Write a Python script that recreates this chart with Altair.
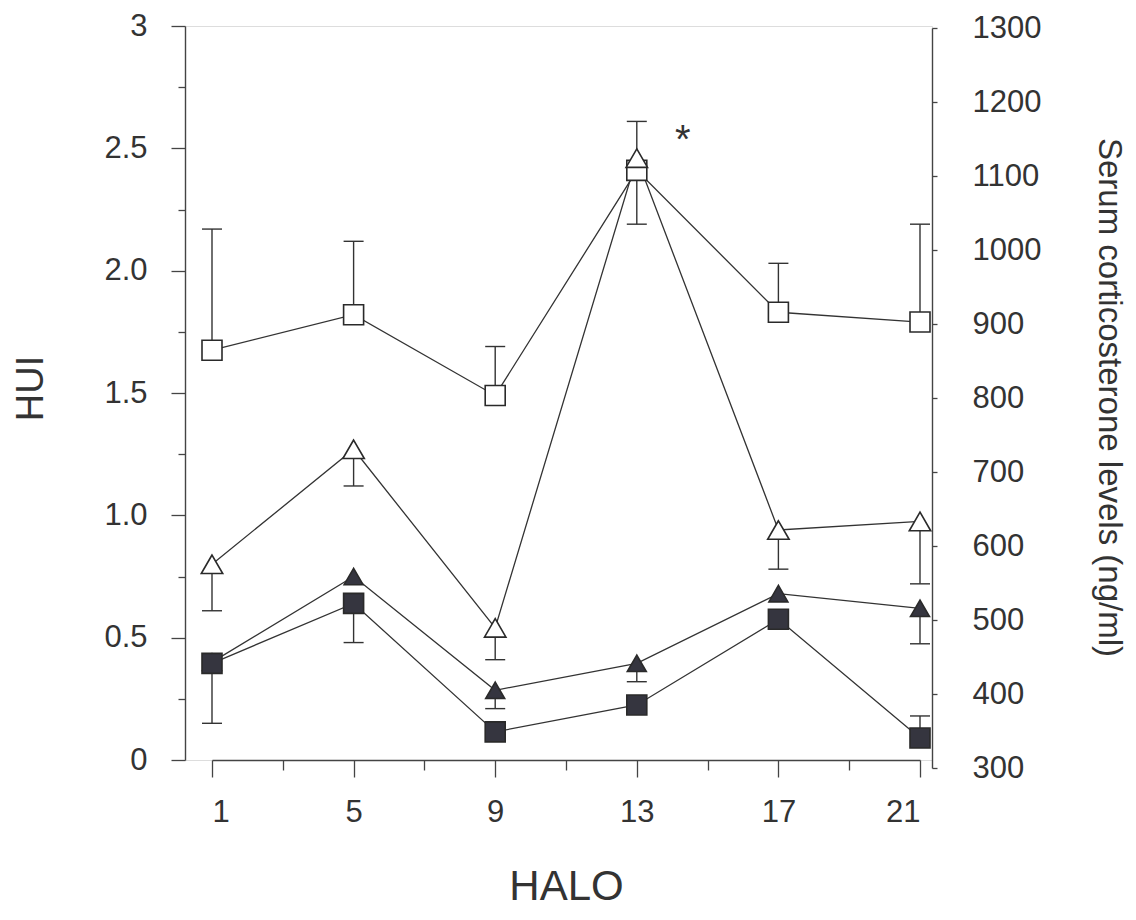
import altair as alt
import pandas as pd

FONT = "Liberation Sans"
INK = "#333333"

# ---- data (HUI units, left axis) ----
HALO = [1, 5, 9, 13, 17, 21]
OPEN_SQUARE = [1.675, 1.82, 1.49, 2.41, 1.83, 1.79]
OPEN_SQUARE_ERR = [2.17, 2.12, 1.69, 2.19, 2.03, 2.19]
OPEN_TRIANGLE = [0.80, 1.27, 0.54, 2.46, 0.94, 0.975]
OPEN_TRIANGLE_ERR = [0.61, 1.12, 0.41, 2.61, 0.78, 0.72]
FILLED_TRIANGLE = [0.40, 0.75, 0.285, 0.395, 0.68, 0.62]
FILLED_TRIANGLE_ERR = [None, None, 0.21, 0.32, None, 0.475]
FILLED_SQUARE = [0.395, 0.64, 0.115, 0.225, 0.575, 0.09]
FILLED_SQUARE_ERR = [0.15, 0.48, None, None, None, 0.18]

X_TICKS = [1, 3, 5, 7, 9, 11, 13, 15, 17, 19, 21]
HUI_TICKS = [0, 0.25, 0.5, 0.75, 1.0, 1.25, 1.5, 1.75, 2.0, 2.25, 2.5, 2.75, 3.0]
CORT_TICKS = [300, 400, 500, 600, 700, 800, 900, 1000, 1100, 1200, 1300]

STAR_X = [14.3]
STAR_Y = [2.48]
STAR_TEXT = ["*"]

series = [
    ("open square", OPEN_SQUARE, OPEN_SQUARE_ERR, "square", "open", 400),
    ("open triangle", OPEN_TRIANGLE, OPEN_TRIANGLE_ERR, "triangle-up", "open", 460),
    ("filled triangle", FILLED_TRIANGLE, FILLED_TRIANGLE_ERR, "triangle-up", "filled", 360),
    ("filled square", FILLED_SQUARE, FILLED_SQUARE_ERR, "square", "filled", 400),
]

pts, errs = [], []
for name, vals, evals, shape, fill, size in series:
    for x, v, e in zip(HALO, vals, evals):
        pts.append({"series": name, "x": x, "y": v, "shape": shape, "fill": fill, "size": size})
        if e is not None:
            errs.append({"series": name, "x": x, "y": v, "err": e})
pts_df = pd.DataFrame(pts)
err_df = pd.DataFrame(errs)
star_df = pd.DataFrame({"x": STAR_X, "y": STAR_Y, "t": STAR_TEXT})
cort_df = pd.DataFrame({"r": [CORT_TICKS[0], CORT_TICKS[-1]]})

x_scale = alt.Scale(domain=[1, 21], range=[27, 735], nice=False, zero=False)
y_scale = alt.Scale(domain=[0, 3], nice=False, zero=False)
r_scale = alt.Scale(domain=[300, 1300], range=[742, 2], nice=False, zero=False)

x_axis = alt.Axis(
    title="HALO", values=X_TICKS, grid=False,
    labelExpr="(datum.value - 1) % 4 == 0 ? datum.label : ''",
    tickSize={"condition": {"test": "(datum.value - 1) % 4 == 0", "value": 17}, "value": 10},
    domainColor="#444", tickColor="#444", domainWidth=1.4, tickWidth=1.3,
    labelFont=FONT, labelFontSize=31, labelColor=INK, labelPadding=20,
    titleFont=FONT, titleFontSize=42, titleFontWeight="normal", titleColor=INK,
    titleX=381, titleY=126, titleBaseline="middle", titleAlign="center",
)
y_axis = alt.Axis(
    title="HUI", values=HUI_TICKS, grid=False,
    labelExpr="datum.value == 0 ? '0' : datum.value == 3 ? '3' : ((datum.value * 2) % 1 == 0 ? format(datum.value, '.1f') : '')",
    tickSize={"condition": {"test": "(datum.value * 2) % 1 == 0", "value": 14}, "value": 7},
    domainColor="#444", tickColor="#444", domainWidth=1.4, tickWidth=1.3,
    labelFont=FONT, labelFontSize=31, labelColor=INK, labelPadding=24,
    titleFont=FONT, titleFontSize=38, titleFontWeight="normal", titleColor=INK,
    titleX=-154, titleY=362, titleBaseline="middle", titleAlign="center", titleAngle=-90,
)
r_axis = alt.Axis(
    title="Serum corticosterone levels (ng/ml)", orient="right", values=CORT_TICKS, grid=False,
    format="d",
    tickSize=5, domainColor="#444", tickColor="#444", domainWidth=1.4, tickWidth=1.3,
    labelFont=FONT, labelFontSize=31, labelColor=INK, labelPadding=35, labelAlign="left",
    titleFont=FONT, titleFontSize=33, titleFontWeight="normal", titleColor=INK,
    titleX=176, titleY=371, titleBaseline="middle", titleAlign="center", titleAngle=90,
)

X = alt.X("x:Q", scale=x_scale, axis=x_axis)
Y = alt.Y("y:Q", scale=y_scale, axis=y_axis)

lines = alt.Chart(pts_df).mark_line(color=INK, strokeWidth=1.3).encode(
    x=X, y=Y, detail="series:N", order="x:Q"
)
err_rules = alt.Chart(err_df).mark_rule(color=INK, strokeWidth=1.4).encode(
    x=X, y=Y, y2="err:Q"
)
err_caps = alt.Chart(err_df).mark_tick(orient="horizontal", size=20, thickness=1.4, color=INK, opacity=1).encode(
    x=X, y=alt.Y("err:Q", scale=y_scale, axis=y_axis)
)
points = alt.Chart(pts_df).mark_point(filled=True, strokeWidth=1.6, opacity=1).encode(
    x=X, y=Y,
    shape=alt.Shape("shape:N", scale=alt.Scale(domain=["square", "triangle-up"], range=["square", "triangle-up"]), legend=None),
    fill=alt.Fill("fill:N", scale=alt.Scale(domain=["open", "filled"], range=["white", "#35353f"]), legend=None),
    size=alt.Size("size:Q", scale=None),
    stroke=alt.value("#2a2a2a"),
)
star = alt.Chart(star_df).mark_text(font=FONT, fontSize=40, color=INK, baseline="alphabetic", align="center").encode(
    x=X, y=Y, text="t:N"
)

left = alt.layer(lines, err_rules, err_caps, points, star)
right = alt.Chart(cort_df).mark_point(opacity=0).encode(
    y=alt.Y("r:Q", scale=r_scale, axis=r_axis)
)

chart = alt.layer(left, right).resolve_scale(y="independent").properties(
    width=747, height=734,
    autosize=alt.AutoSizeParams(type="none"),
    padding={"left": 177, "top": 18, "right": 196, "bottom": 148},
).configure_view(stroke=None).configure(background="white")

chart.save("out.html", embed_options={"renderer": "svg", "actions": False})
